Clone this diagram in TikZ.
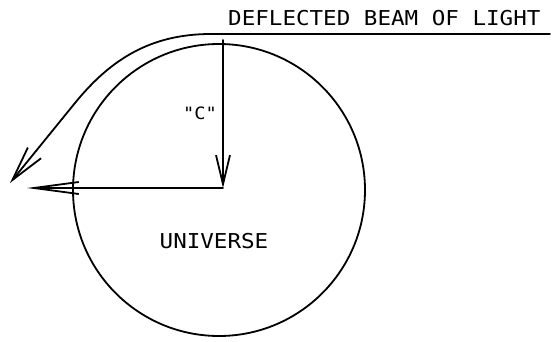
\documentclass[tikz,border=0pt]{standalone}
\usepackage{fontspec}
\usepackage{tikz}
\usetikzlibrary{arrows.meta, positioning}
\newfontfamily\plotfont{DejaVu Sans Mono}

\begin{document}
\begin{tikzpicture}[x=1pt, y=-1pt,
      ray/.style={line width=1.8pt, line cap=round, line join=round},
      lbl/.style={font=\plotfont\fontsize{20.5}{22}\selectfont, inner sep=0pt, xscale=1.1}]
    \useasboundingbox (0,0) rectangle (552,342);
    \node[draw, circle, line width=1.8pt, minimum size=292pt, inner sep=0pt] (universe) at (219,190) {};
    \node[lbl, anchor=base] (ulabel) at (214,248) {UNIVERSE};
    \node[lbl, anchor=base west] (title) at (228,26) {DEFLECTED BEAM OF LIGHT};
    \node[lbl, font=\plotfont\fontsize{17}{18}\selectfont, anchor=base] (clabel) at (200,120) {"C"};
    \coordinate (top) at (223,40);
    \coordinate (hub) at (223,188);
    \coordinate (rim) at (27,188);
    \coordinate (beamin) at (550,34);
    \coordinate (bend) at (211,34);
    \coordinate (beamout) at (10,183);
    \draw[ray, -{Straight Barb[length=29pt, width=14pt]}] (top) -- (hub);
    \draw[ray, -{Straight Barb[length=45pt, width=12pt]}] (hub) -- (rim);
    \draw[ray, -{Straight Barb[length=35pt, width=17pt]}] (beamin) -- (bend)
      .. controls (150,34) and (110,60) .. (75,103) -- (beamout);
  \end{tikzpicture}
\end{document}
